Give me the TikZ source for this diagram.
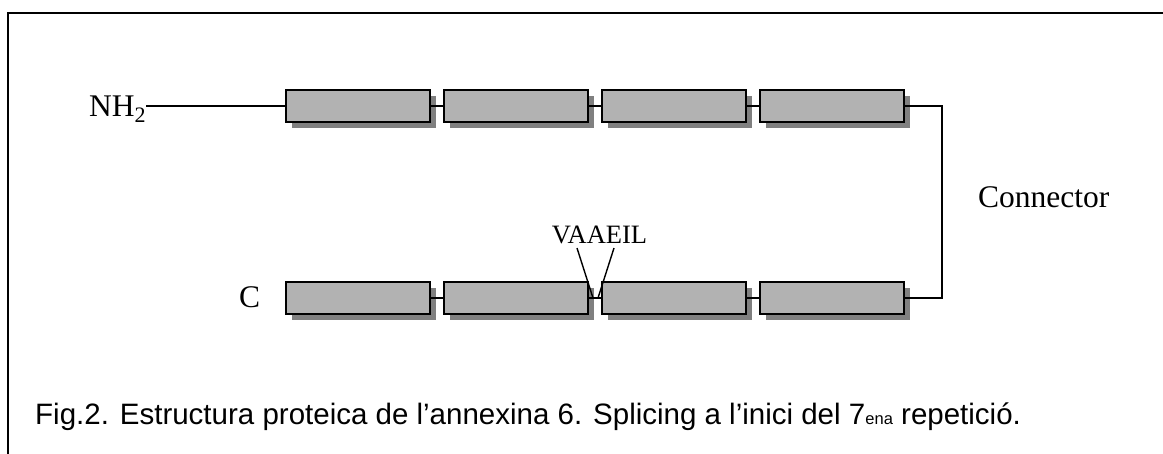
\documentclass[tikz,border=0pt]{standalone}
\usepackage{fontspec}
\setmainfont{Liberation Serif}
\newfontfamily\capfont{Liberation Sans}
\usetikzlibrary{shadows}
\definecolor{boxgray}{HTML}{B2B2B2}
\definecolor{shadowgray}{HTML}{808080}
\begin{document}
\begin{tikzpicture}[x=1pt,y=-1pt,
  repbox/.style={draw=black,line width=1.5pt,fill=boxgray,minimum width=144pt,minimum height=32pt,inner sep=0pt,
    drop shadow={shadow xshift=5.5pt,shadow yshift=-5.5pt,fill=shadowgray,opacity=1}},
  chainline/.style={draw=black,line width=1.5pt},
  lbl/.style={font=\fontsize{31.5}{36}\selectfont,inner sep=0pt},
  smalllbl/.style={font=\fontsize{26.5}{30}\selectfont,inner sep=0pt},
  captext/.style={font=\capfont\fontsize{29.5}{34}\selectfont,inner sep=0pt}]
\useasboundingbox (0,0) rectangle (1163,453);
\draw[line width=2pt] (8,460) -- (8,13) -- (1170,13);
% top row
\node[repbox] (b1) at (358,106) {};
\node[repbox] (b2) at (516,106) {};
\node[repbox] (b3) at (674,106) {};
\node[repbox] (b4) at (832,106) {};
% bottom row
\node[repbox] (b5) at (358,298) {};
\node[repbox] (b6) at (516,298) {};
\node[repbox] (b7) at (674,298) {};
\node[repbox] (b8) at (832,298) {};
% labels
\node[lbl,anchor=base west] (nh) at (89,116.7) {NH\textsubscript{2}};
\node[lbl,anchor=base west] (cterm) at (239,307.7) {C};
\node[lbl,anchor=base west] (conn) at (978,207.3) {Connector};
\node[smalllbl,anchor=base] (va) at (599.5,243.3) {VAAEIL};
% chain lines
\draw[chainline,line width=1.2pt] (b1.west) -- (b1.west -| nh.east);
\draw[chainline] (b1.east) -- (b2.west);
\draw[chainline] (b2.east) -- (b3.west);
\draw[chainline] (b3.east) -- (b4.west);
\draw[chainline] (b5.east) -- (b6.west);
\draw[chainline] (b6.east) -- (b7.west);
\draw[chainline] (b7.east) -- (b8.west);
\coordinate (cr) at (942,106);
\draw[chainline] (b4.east) -- (cr) |- (b8.east);
% splice marks
\coordinate (v1) at (577,248);
\coordinate (v2) at (614,248);
\coordinate (vm1) at (593,298);
\coordinate (vm2) at (598,298);
\draw[line width=1.4pt] (v1) -- (vm1);
\draw[line width=1.4pt] (v2) -- (vm2);
% caption
\node[captext,anchor=base west] (capt) at (35,424) {Fig.2. Estructura proteica de l’annexina 6. Splicing a l’inici del 7{\fontsize{16.5}{20}\selectfont ena} repetició.};
\end{tikzpicture}
\end{document}
